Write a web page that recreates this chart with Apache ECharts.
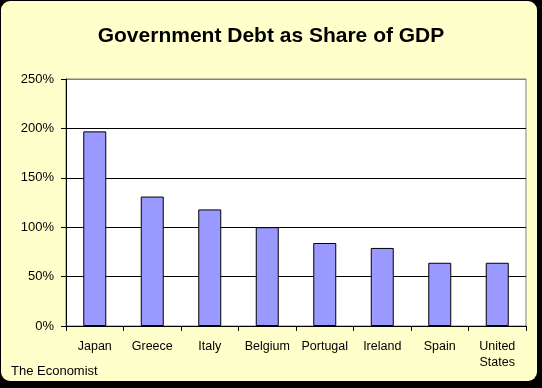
<!DOCTYPE html>
<html>
<head>
<meta charset="utf-8">
<script src="https://cdn.jsdelivr.net/npm/echarts@6/dist/echarts.min.js"></script>
<style>
html,body{margin:0;padding:0;background:#000;}
#chart{width:542px;height:388px;}
</style>
</head>
<body>
<div id="chart"></div>
<script>
const categories = ['Japan', 'Greece', 'Italy', 'Belgium', 'Portugal', 'Ireland', 'Spain', 'United\nStates'];
const debtShare = [197, 131, 118, 100, 84, 79, 64, 64];
const yTicks = [0, 50, 100, 150, 200, 250];
const titleText = 'Government Debt as Share of GDP';
const sourceText = 'The Economist';

const chart = echarts.init(document.getElementById('chart'), null, {renderer: 'canvas'});
const font = '"Liberation Sans", Arial, sans-serif';
chart.setOption({
  backgroundColor: '#000',
  animation: false,
  graphic: [
    {type: 'rect', z: -10, shape: {x: 1, y: 1, width: 536, height: 380, r: 9}, style: {fill: '#FFFFCC'}},
    {type: 'text', left: 11, top: 365, style: {text: sourceText, font: '13px ' + font, fill: '#000'}}
  ],
  title: {
    text: titleText, left: 'center', top: 21,
    textStyle: {fontFamily: font, fontSize: 21, fontWeight: 'bold', color: '#000'}
  },
  grid: {
    left: 66, right: 16, top: 79, bottom: 62,
    show: true, backgroundColor: '#fff', borderColor: '#808080', borderWidth: 1
  },
  xAxis: {
    type: 'category', data: categories,
    axisLine: {lineStyle: {color: '#000', width: 1}},
    axisTick: {show: true, length: 5, alignWithLabel: false, lineStyle: {color: '#000'}},
    axisLabel: {color: '#000', fontFamily: font, fontSize: 12.5, margin: 13, lineHeight: 16, interval: 0}
  },
  yAxis: {
    type: 'value', min: 0, max: 250, interval: 50,
    axisLine: {show: true, lineStyle: {color: '#000', width: 1}},
    axisTick: {show: true, length: 5, lineStyle: {color: '#000'}},
    axisLabel: {color: '#000', fontFamily: font, fontSize: 13, margin: 12,
      formatter: v => yTicks.includes(v) ? v + '%' : ''},
    splitLine: {show: true, lineStyle: {color: ['#000', '#000', '#000', '#000', '#000', '#808080'], width: 1}}
  },
  series: [{
    type: 'bar', data: debtShare, barWidth: '40%',
    itemStyle: {color: '#9999FF', borderColor: '#000', borderWidth: 1}
  }]
});
</script>
</body>
</html>
